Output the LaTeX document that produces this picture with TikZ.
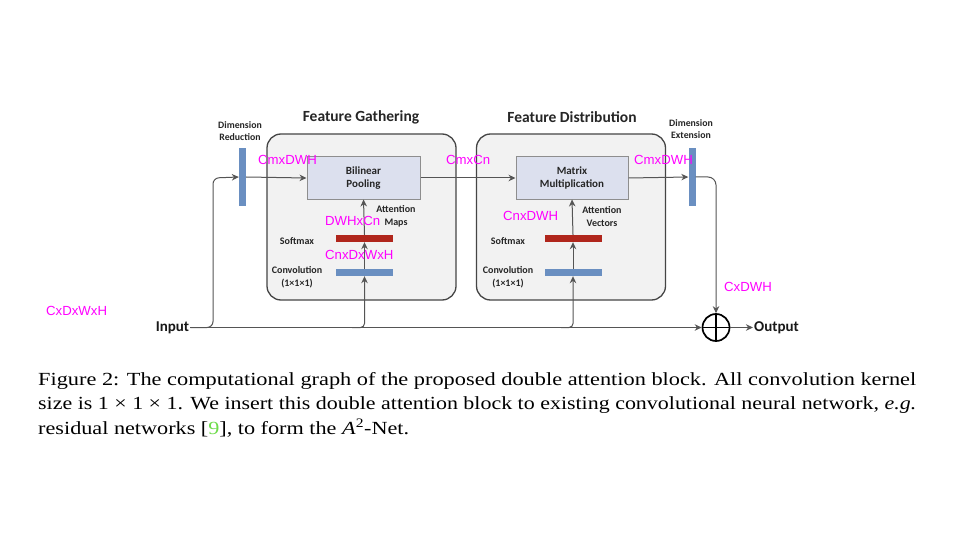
\documentclass[tikz,border=0pt]{standalone}
\usepackage{fontspec}
\usepackage{graphicx}
\setmainfont{Liberation Serif}
\setsansfont{Carlito}
\newfontfamily\dimsfont{Liberation Sans}
\usetikzlibrary{positioning,
				arrows.meta,
				calc}

\definecolor{stagefill}{HTML}{F2F2F2}
\definecolor{stageedge}{HTML}{454545}
\definecolor{flowgray}{HTML}{555555}
\definecolor{opfill}{HTML}{DCE0EE}
\definecolor{opedge}{HTML}{8E8E8E}
\definecolor{barblue}{HTML}{6A8FC1}
\definecolor{barred}{HTML}{B0261C}
\definecolor{dimmag}{HTML}{FF00FF}
\definecolor{citegreen}{HTML}{6EDC4B}

\tikzset{
	stage/.style={draw=stageedge, fill=stagefill, line width=1.3pt, rounded corners=14pt, minimum width=189pt, minimum height=166pt},
	opbox/.style={draw=opedge, fill=opfill, line width=1pt, minimum width=113pt, minimum height=42pt, align=center, font=\sffamily\bfseries\fontsize{11}{13}\selectfont, text=black!85},
	vbar/.style={fill=barblue, minimum width=7pt, minimum height=58pt, inner sep=0pt},
	hbar/.style={fill=#1, minimum width=57pt, minimum height=7pt, inner sep=0pt},
	flow/.style={draw=flowgray, line width=1pt, -{Stealth[length=7pt,width=6.5pt]}},
	small/.style={font=\sffamily\bfseries\fontsize{10}{12.5}\selectfont, align=center, text=black!85, inner sep=0pt},
	title/.style={font=\sffamily\bfseries\fontsize{15.5}{17}\selectfont, text=black!85},
	port/.style={font=\sffamily\bfseries\fontsize{15}{17}\selectfont, text=black!90, inner sep=1pt},
	dims/.style={font=\dimsfont\fontsize{13.2}{15}\selectfont, text=dimmag, inner sep=0pt, anchor=west},
	capline/.style={font=\fontsize{18.5}{22}\selectfont, inner sep=0pt, anchor=west}
}

\begin{document}
\begin{tikzpicture}[x=1pt, y=-1pt]
		\fill[white] (0,0) rectangle (960,540);
		\useasboundingbox (0,0) rectangle (960,540);

		\node[stage] (gather) at (361.5,217) {};
		\node[stage] (distrib) at (571,217) {};
		\node[title] (gathertitle) at (361,117) {Feature Gathering};
		\node[title] (distribtitle) at (572,117) {Feature Distribution};

		\node[vbar] (reduce) at (242.5,177) {};
		\node[vbar] (extend) at (692,177) {};
		\node[small, font=\sffamily\bfseries\fontsize{9.8}{12}\selectfont] (reducetext) at (240,131) {Dimension\\Reduction};
		\node[small, font=\sffamily\bfseries\fontsize{9.8}{12}\selectfont] (extendtext) at (691,129) {Dimension\\Extension};

		\node[opbox] (bilinear) at (363.5,178) {Bilinear\\Pooling};
		\node[opbox, minimum width=112pt] (matrix) at (572,178) {Matrix\\Multiplication};

		\node[port] (input) at (172.5,327.5) {Input};
		\node[draw=black, line width=1.7pt, circle, minimum size=27pt, inner sep=0pt,
			path picture={\draw[line width=1.7pt] (path picture bounding box.north) -- (path picture bounding box.south) (path picture bounding box.west) -- (path picture bounding box.east);}] (plus) at (716,327.5) {};
		\node[port] (output) at (776.5,327.5) {Output};

		\foreach \stage/\x/\tap/\note/\lx/\top/\bottom in {G/364.5/352/297/396/Attention/Maps, D/573/561/508/602/Attention/Vectors}
		{
			\node[hbar=barred] (soft\stage) at (\x,238.5) {};
			\node[hbar=barblue] (conv\stage) at (\x,272.5) {};
			\node[small] (softtext\stage) at (\note,241) {Softmax};
			\node[small] (convtext\stage) at (\note,277) {Convolution\\(1×1×1)};
			\node[small] (attn\stage) at (\lx,216.5) {\top\\\bottom};
			\coordinate (tap\stage) at (\tap,327.5);
			\draw[flow, rounded corners=4pt] (tap\stage) -| (conv\stage.south);
			\draw[flow] (conv\stage.north) -- (soft\stage.south);
		}
		\draw[flow] (softG.north) -- (bilinear.south);
		\draw[flow] (softD.north) -- (matrix.south);

		\coordinate (rise) at (213,178);
		\draw[flow, rounded corners=6pt] (input.east) -| (rise) -- (reduce.west);
		\draw[flow] (input.east) -- (plus.west);
		\draw[flow] (reduce.east) -- (bilinear.west);
		\draw[flow] (bilinear.east) -- (matrix.west);
		\draw[flow] (matrix.east) -- (extend.west);
		\draw[flow, rounded corners=8pt] (extend.east) -| (plus.north);
		\draw[flow] (plus.east) -- (output.west);

		\node[dims] (dimA) at (258,160) {CmxDWH};
		\node[dims] (dimB) at (446,160) {CmxCn};
		\node[dims] (dimC) at (634,160) {CmxDWH};
		\node[dims] (dimD) at (325,221) {DWHxCn};
		\node[dims] (dimE) at (325,255) {CnxDxWxH};
		\node[dims] (dimF) at (503,216) {CnxDWH};
		\node[dims] (dimG) at (724,287) {CxDWH};
		\node[dims] (dimH) at (46,311) {CxDxWxH};

		\node[capline] (capA) at (38,381) {\resizebox{878pt}{\height}{Figure 2: The computational graph of the proposed double attention block. All convolution kernel}};
		\node[capline] (capB) at (38,405) {\resizebox{878pt}{\height}{size is 1 × 1 × 1. We insert this double attention block to existing convolutional neural network, \emph{e.g.}}};
		\node[capline] (capC) at (38,428) {\scalebox{1.2}[1]{residual networks [\textcolor{citegreen}{9}], to form the \textit{A}\textsuperscript{2}-Net.}};
	\end{tikzpicture}
\end{document}
